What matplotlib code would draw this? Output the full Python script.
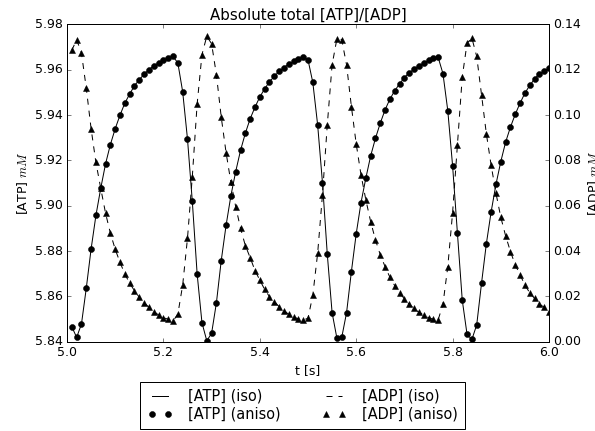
import numpy as np
import matplotlib
matplotlib.use("Agg")
import matplotlib.pyplot as plt

plt.style.use('classic')
plt.rcParams['font.size'] = 12.5

# sample times, 0.01 s grid from 5.01 to 6.00
t = np.round(np.arange(5.01, 6.005, 0.01), 2)

atp = [5.8466, 5.8419, 5.8478, 5.8636, 5.8809, 5.8957, 5.9077, 5.9185, 5.9270, 5.9340,
       5.9400, 5.9453, 5.9493, 5.9530, 5.9556, 5.9581, 5.9600, 5.9618, 5.9630, 5.9642,
       5.9650, 5.9659, 5.9630, 5.9503, 5.9294, 5.9019, 5.8699, 5.8484, 5.8404, 5.8437,
       5.8572, 5.8758, 5.8913, 5.9044, 5.9151, 5.9244, 5.9320, 5.9384, 5.9435, 5.9480,
       5.9516, 5.9547, 5.9571, 5.9593, 5.9610, 5.9625, 5.9637, 5.9649, 5.9656, 5.9644,
       5.9544, 5.9357, 5.9102, 5.8786, 5.8528, 5.8415, 5.8419, 5.8528, 5.8709, 5.8876,
       5.9014, 5.9122, 5.9220, 5.9298, 5.9365, 5.9424, 5.9471, 5.9508, 5.9538, 5.9566,
       5.9586, 5.9603, 5.9618, 5.9630, 5.9642, 5.9650, 5.9655, 5.9583, 5.9420, 5.9176,
       5.8879, 5.8584, 5.8432, 5.8410, 5.8474, 5.8658, 5.8832, 5.8974, 5.9095, 5.9195,
       5.9281, 5.9347, 5.9404, 5.9453, 5.9497, 5.9531, 5.9559, 5.9583, 5.9593, 5.9608]

adp = [0.1286, 0.1333, 0.1274, 0.1119, 0.0940, 0.0791, 0.0677, 0.0567, 0.0479, 0.0408,
       0.0350, 0.0299, 0.0258, 0.0225, 0.0196, 0.0172, 0.0152, 0.0133, 0.0118, 0.0106,
       0.0099, 0.0091, 0.0122, 0.0250, 0.0457, 0.0729, 0.1049, 0.1267, 0.1348, 0.1315,
       0.1178, 0.0991, 0.0835, 0.0704, 0.0596, 0.0501, 0.0424, 0.0371, 0.0314, 0.0272,
       0.0231, 0.0199, 0.0177, 0.0155, 0.0137, 0.0121, 0.0110, 0.0100, 0.0096, 0.0103,
       0.0206, 0.0390, 0.0648, 0.0957, 0.1222, 0.1337, 0.1333, 0.1222, 0.1038, 0.0873,
       0.0736, 0.0626, 0.0530, 0.0449, 0.0383, 0.0331, 0.0284, 0.0247, 0.0216, 0.0189,
       0.0165, 0.0147, 0.0130, 0.0118, 0.0106, 0.0099, 0.0096, 0.0166, 0.0331, 0.0570,
       0.0869, 0.1168, 0.1318, 0.1340, 0.1259, 0.1090, 0.0918, 0.0778, 0.0655, 0.0549,
       0.0467, 0.0398, 0.0339, 0.0295, 0.0250, 0.0216, 0.0191, 0.0166, 0.0152, 0.0133]

fig = plt.figure(figsize=(595 / 72, 431 / 72), dpi=72, facecolor='white')
ax = fig.add_axes([0.1126, 0.2072, 0.8101, 0.736])
ax2 = ax.twinx()

l1, = ax.plot(t, atp, 'k-', lw=1, label='[ATP] (iso)')
l2, = ax.plot(t, atp, 'ko', ms=6, ls='none', label='[ATP] (aniso)')
l3, = ax2.plot(t, adp, 'k--', lw=1, label='[ADP] (iso)')
l4, = ax2.plot(t, adp, 'k^', ms=6, ls='none', label='[ADP] (aniso)')

ax.set_xlim(5.0, 6.0)
ax.set_ylim(5.84, 5.98)
ax2.set_ylim(0.0, 0.14)
ax.set_xticks([5.0, 5.2, 5.4, 5.6, 5.8, 6.0])
ax.set_yticks(np.arange(5.84, 5.981, 0.02))
ax2.set_yticks(np.arange(0.0, 0.141, 0.02))
ax.yaxis.set_major_formatter(matplotlib.ticker.FormatStrFormatter('%.2f'))
ax2.yaxis.set_major_formatter(matplotlib.ticker.FormatStrFormatter('%.2f'))

ax.set_xlabel('t [s]')
ax.set_ylabel('[ATP] $mM$')
ax2.set_ylabel('[ADP] $mM$')
ax.set_title('Absolute total [ATP]/[ADP]', fontsize=15)

fig.legend([l1, l2, l3, l4], ['[ATP] (iso)', '[ATP] (aniso)', '[ADP] (iso)', '[ADP] (aniso)'],
           loc='upper center', bbox_to_anchor=(0.509, 0.1144), ncol=2, fontsize=14.5,
           handlelength=1.7, handletextpad=1.1, columnspacing=2.8, labelspacing=0.2,
           borderpad=0.5, borderaxespad=0.0)

fig.savefig('out.png', dpi=72, facecolor='white')
